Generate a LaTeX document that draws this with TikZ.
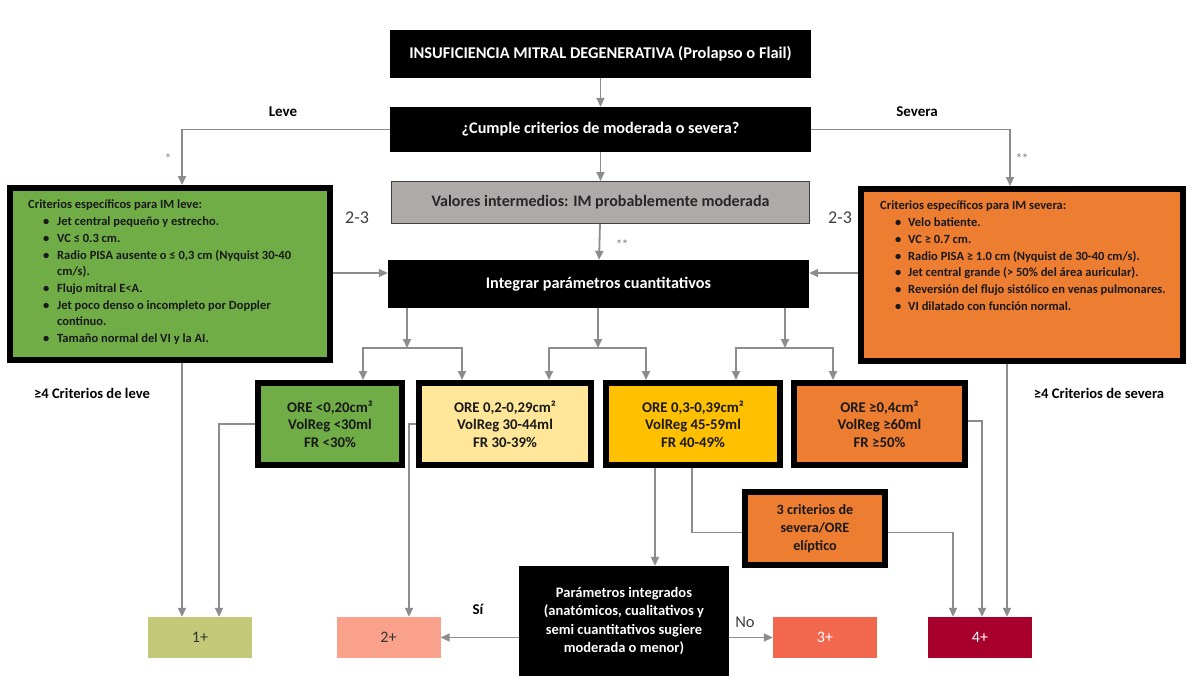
\documentclass[tikz,border=0pt]{standalone}
\usepackage{fontspec}
\setmainfont{Carlito}
\usetikzlibrary{arrows.meta,shadows}
\definecolor{cgreen}{HTML}{70AD47}
\definecolor{corange}{HTML}{ED7D31}
\definecolor{cyellow}{HTML}{FFE699}
\definecolor{cgold}{HTML}{FFC000}
\definecolor{cgraybox}{HTML}{AEAAAA}
\definecolor{cone}{HTML}{C2C978}
\definecolor{ctwo}{HTML}{F9A18A}
\definecolor{cthree}{HTML}{F1684E}
\definecolor{cfour}{HTML}{A8002D}
\definecolor{cline}{HTML}{8C8C8C}
\definecolor{clabel}{HTML}{404040}
\begin{document}
\begin{tikzpicture}[x=1pt,y=-1pt,
  conn/.style={draw=cline, line width=1.8pt},
  arr/.style={conn, -{Triangle[length=9pt,width=8pt]}},
  tbox/.style={draw=black, line width=6pt, inner sep=0pt, align=center,
    drop shadow={shadow xshift=3pt, shadow yshift=-3pt, opacity=0.35, fill=black!60}},
  blk/.style={fill=black, text=white, inner sep=0pt, align=center,
    font=\bfseries\fontsize{16.4}{19}\selectfont},
  res/.style={inner sep=0pt, minimum width=104pt, minimum height=41pt,
    font=\fontsize{16}{18}\selectfont},
  orebox/.style={tbox, minimum height=82pt, text=black!90,
    font=\bfseries\fontsize{14.8}{17.5}\selectfont},
  crit/.style={inner sep=0pt, anchor=north west, align=left, text=black!90,
    font=\bfseries\fontsize{12.5}{16.7}\selectfont},
  lbl/.style={inner sep=0pt, font=\bfseries\fontsize{15}{17}\selectfont},
  star/.style={inner sep=0pt, text=cline, font=\bfseries\fontsize{12}{13}\selectfont}
]
\useasboundingbox[fill=white] (0,0) rectangle (1200,699);

% main column
\node[blk, minimum width=421pt, minimum height=48pt] (title) at (600.5,54)
  {INSUFICIENCIA MITRAL DEGENERATIVA (Prolapso o Flail)};
\node[blk, minimum width=421pt, minimum height=45pt, font=\bfseries\fontsize{16.2}{19}\selectfont] (q) at (600.5,129.5)
  {¿Cumple criterios de moderada o severa?};
\node[fill=cgraybox, draw=black!75, line width=1pt, minimum width=418pt, minimum height=42pt, inner sep=0pt,
  font=\bfseries\fontsize{16}{18}\selectfont, text=black!85] (gray) at (600.5,202.5)
  {Valores intermedios: IM probablemente moderada};
\node[blk, minimum width=421pt, minimum height=48pt, font=\bfseries\fontsize{16.2}{19}\selectfont] (integ) at (598.5,284)
  {Integrar parámetros cuantitativos};

% criteria boxes
\node[tbox, fill=cgreen, minimum width=320pt, minimum height=172pt] (leve) at (170,274) {};
\node[crit] (leveTxt) at (28,200) {%
Criterios específicos para IM leve:\\
\hspace*{15pt}\makebox[14pt][l]{•}Jet central pequeño y estrecho.\\
\hspace*{15pt}\makebox[14pt][l]{•}VC ≤ 0.3 cm.\\
\hspace*{15pt}\makebox[14pt][l]{•}Radio PISA ausente o ≤ 0,3 cm (Nyquist 30-40\\
\hspace*{29pt}cm/s).\\
\hspace*{15pt}\makebox[14pt][l]{•}Flujo mitral E<A.\\
\hspace*{15pt}\makebox[14pt][l]{•}Jet poco denso o incompleto por Doppler\\
\hspace*{29pt}continuo.\\
\hspace*{15pt}\makebox[14pt][l]{•}Tamaño normal del VI y la AI.};

\node[tbox, fill=corange, minimum width=322pt, minimum height=172pt] (severa) at (1022,275) {};
\node[crit] (severaTxt) at (880,201) {%
Criterios específicos para IM severa:\\
\hspace*{15pt}\makebox[13pt][l]{•}Velo batiente.\\
\hspace*{15pt}\makebox[13pt][l]{•}VC ≥ 0.7 cm.\\
\hspace*{15pt}\makebox[13pt][l]{•}Radio PISA ≥ 1.0 cm (Nyquist de 30-40 cm/s).\\
\hspace*{15pt}\makebox[13pt][l]{•}Jet central grande (> 50\% del área auricular).\\
\hspace*{15pt}\makebox[13pt][l]{•}Reversión del flujo sistólico en venas pulmonares.\\
\hspace*{15pt}\makebox[13pt][l]{•}VI dilatado con función normal.};

% ORE boxes
\node[orebox, fill=cgreen, minimum width=144pt] (oreG) at (330,424)
  {ORE <0,20cm²\\VolReg <30ml\\FR <30\%};
\node[orebox, fill=cyellow, minimum width=172pt] (oreY) at (505,424)
  {ORE 0,2-0,29cm²\\VolReg 30-44ml\\FR 30-39\%};
\node[orebox, fill=cgold, minimum width=174pt] (oreO) at (693,424)
  {ORE 0,3-0,39cm²\\VolReg 45-59ml\\FR 40-49\%};
\node[orebox, fill=corange, minimum width=171pt] (oreR) at (879.5,424)
  {ORE ≥0,4cm²\\VolReg ≥60ml\\FR ≥50\%};

\node[tbox, fill=corange, minimum width=140pt, minimum height=73pt, text=black!90,
  font=\bfseries\fontsize{14.2}{18}\selectfont] (crit3) at (815,528.5)
  {3 criterios de\\severa/ORE\\elíptico};

\node[blk, minimum width=210pt, minimum height=110pt, font=\bfseries\fontsize{14.5}{18.3}\selectfont] (param) at (624,621)
  {Parámetros integrados\\(anatómicos, cualitativos y\\semi cuantitativos sugiere\\moderada o menor)};

% result boxes
\node[res, fill=cone, text=black!80] (b1) at (200,637.5) {1+};
\node[res, fill=ctwo, text=black!80] (b2) at (388.5,637.5) {2+};
\node[res, fill=cthree, text=white] (b3) at (825,637.5) {3+};
\node[res, fill=cfour, text=white] (b4) at (980,637.5) {4+};

% labels
\node[lbl] (lLeve) at (283,112) {Leve};
\node[lbl] (lSevera) at (917,112) {Severa};
\node[star] (s1) at (168,158) {*};
\node[star] (s2) at (1022,158) {**};
\node[star] (s3) at (622,244) {**};
\node[inner sep=0pt, text=clabel, font=\fontsize{18}{20}\selectfont] (t1) at (357,218) {2-3};
\node[inner sep=0pt, text=clabel, font=\fontsize{18}{20}\selectfont] (t2) at (840,218) {2-3};
\node[lbl, font=\bfseries\fontsize{14.6}{17}\selectfont] (c1) at (92,393) {≥4 Criterios de leve};
\node[lbl, font=\bfseries\fontsize{14.6}{17}\selectfont] (c2) at (1099,393) {≥4 Criterios de severa};
\node[lbl] (lsi) at (478,609) {Sí};
\node[inner sep=0pt, text=clabel, font=\fontsize{16.5}{18}\selectfont] (lno) at (745,622) {No};

% connectors - main column
\draw[arr] (title) -- (q);
\draw[arr] (q) -- (gray);
\draw[arr] (gray) -- (integ);
\draw[arr] (q.west) -| ([xshift=12pt]leve.north);
\draw[arr] (q.east) -| ([xshift=-12pt]severa.north);
\draw[arr] (leve.east |- 0,273) -- (integ.west |- 0,273);
\draw[arr] (severa.west |- 0,273) -- (integ.east |- 0,273);

% distribution to ORE boxes
\coordinate (j1) at (407,348);
\coordinate (j2) at (598,348);
\coordinate (j3) at (785,348);
\draw[arr] (integ.south -| j1) -- (j1);
\draw[arr] (integ.south -| j2) -- (j2);
\draw[arr] (integ.south -| j3) -- (j3);
\draw[arr] (j1) -| ([xshift=33pt]oreG.north);
\draw[arr] (j1) -| ([xshift=-43pt]oreY.north);
\draw[arr] (j2) -| ([xshift=44pt]oreY.north);
\draw[arr] (j2) -| ([xshift=-47pt]oreO.north);
\draw[arr] (j3) -| ([xshift=43pt]oreO.north);
\draw[arr] (j3) -| ([xshift=-46.5pt]oreR.north);

% to results
\draw[arr] ([xshift=12pt]leve.south) -- ([xshift=-18pt]b1.north);
\draw[arr] (oreG.west) -| ([xshift=19pt]b1.north);
\draw[arr] (oreY.west) -| ([xshift=20.5pt]b2.north);
\draw[arr] ([xshift=-38pt]oreO.south) -- ([xshift=31pt]param.north);
\draw[conn] ([xshift=-1pt]oreO.south) |- ([yshift=-4pt]crit3.west);
\draw[arr] ([yshift=-4pt]crit3.east) -| ([xshift=-27pt]b4.north);
\draw[arr] ([yshift=3pt]oreR.east) -| ([xshift=2pt]b4.north);
\draw[arr] ([xshift=-15pt]severa.south) -- ([xshift=27pt]b4.north);
\draw[arr] (param.west |- b2.east) -- (b2.east);
\draw[arr] (param.east |- b3.west) -- (b3.west);
\end{tikzpicture}
\end{document}
